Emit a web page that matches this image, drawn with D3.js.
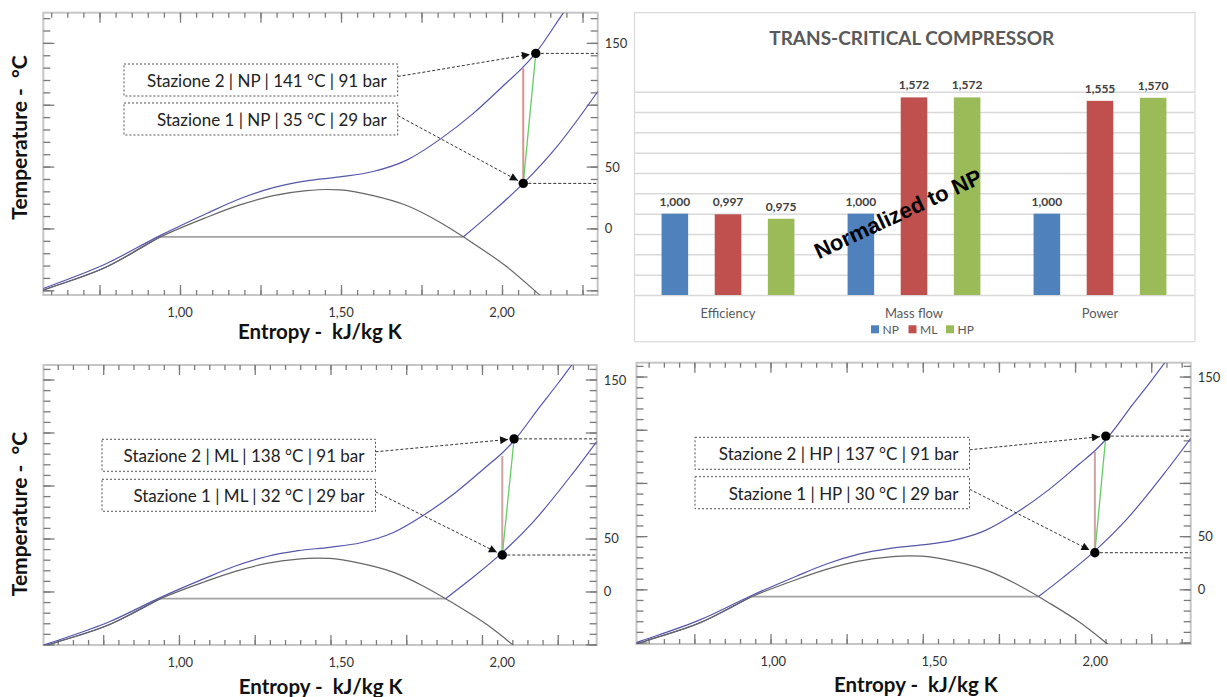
<!DOCTYPE html>
<html>
<head>
<meta charset="utf-8">
<script src="https://cdn.jsdelivr.net/npm/d3@7"></script>
<style>
  body { margin: 0; background: #fff; }
  svg { display: block; font-family: Lato, "Open Sans", sans-serif; }
</style>
</head>
<body>
<svg id="fig" width="1227" height="697"></svg>
<script>
// ---- T-s diagram curves (entropy kJ/kg K, temperature °C)
const isobar91 = [
  [0.55, -51.0], [0.5755, -48.5], [0.772, -28.3], [0.938, -5.8], [1.083, 12.1],
  [1.186, 24], [1.290, 33], [1.393, 38.5], [1.497, 41.7], [1.600, 46],
  [1.704, 55.2], [1.807, 72], [1.911, 93], [2.015, 118], [2.064, 130],
  [2.105, 142], [2.19, 174], [2.25, 196], [2.31, 219]
];
const satDome = [
  [0.55, -52.5], [0.5755, -50], [0.772, -31.1], [0.938, -7.0], [1.083, 9],
  [1.186, 19], [1.290, 26.5], [1.393, 30.5], [1.456, 31.5], [1.497, 31.2],
  [1.600, 26.5], [1.704, 18.5], [1.807, 5], [1.880, -6.8], [1.911, -12.1],
  [2.015, -31], [2.118, -54], [2.14, -59]
];
const isobar29Liquid = [[0.55, -52.3], [0.5755, -49.8], [0.772, -31], [0.938, -6.8]];
const isobar29Flat = [[0.938, -6.8], [1.880, -6.8]];
const isobar29Vapor = [[1.880, -6.8], [1.96, 11], [2.066, 36.4], [2.17, 66], [2.297, 110.5], [2.38, 142]];

// ---- compressor stations, one entry per diagram (NP, ML, HP)
const caseNames = ["NP", "ML", "HP"];
const st1Entropy = [2.066, 2.067, 2.065];
const st1Temp = [36.4, 34.4, 34.4];
const st2Entropy = [2.105, 2.106, 2.101];
const st2Temp = [141.5, 144, 144];
const isentropicTopTemp = [129.4, 127.8, 129.3];
const st1Labels = ["Stazione 1 | NP | 35 °C | 29 bar", "Stazione 1 | ML | 32 °C | 29 bar", "Stazione 1 | HP | 30 °C | 29 bar"];
const st2Labels = ["Stazione 2 | NP | 141 °C | 91 bar", "Stazione 2 | ML | 138 °C | 91 bar", "Stazione 2 | HP | 137 °C | 91 bar"];

// ---- axis labels
const xLabelValues = [1.0, 1.5, 2.0];
const rightLabelTexts = ["0", "50", "150"];
const rightLabelPosTop = [0, 50, 150];
const rightLabelPosBottom = [0, 50, 200];   // pasted labels sit one major tick higher

// ---- bar chart
const categories = ["Efficiency", "Mass flow", "Power"];
const seriesKeys = ["NP", "ML", "HP"];
const npValues = [1.000, 1.000, 1.000];
const mlValues = [0.997, 1.572, 1.555];
const hpValues = [0.975, 1.572, 1.570];
const barColors = ["#4F81BD", "#C0504D", "#9BBB59"];
const barTicks = d3.range(6, 17).map(k => k / 10);

const itLocale = d3.formatLocale({decimal: ",", thousands: ".", grouping: [3], currency: ["", " €"]});
const fmt2 = itLocale.format(".2f");
const fmt3 = itLocale.format(".3f");

const svg = d3.select("#fig");
const defs = svg.append("defs");
defs.append("marker")
  .attr("id", "arrow")
  .attr("viewBox", "0 0 10 10")
  .attr("refX", 10).attr("refY", 5)
  .attr("markerWidth", 9).attr("markerHeight", 8)
  .attr("markerUnits", "userSpaceOnUse")
  .attr("orient", "auto")
  .append("path").attr("d", "M0,0L10,5L0,10Z").attr("fill", "#111");

const panels = [
  {left: 43.3, right: 597.7, top: 12.7, bottom: 295, xDom: [0.5755, 2.2972], yDom: [-53.8, 174.4],
   boxLeft: 124, boxRight: 397.7, box2Top: 64, box1Top: 103, redColor: "#d6948e",
   xTitleX: 320, xTitleY: 338.5, yTitleY: 137.5, rightPos: rightLabelPosTop},
  {left: 43.5, right: 596.7, top: 365, bottom: 645, xDom: [0.5529, 2.3786], yDom: [-50.5, 213.7],
   boxLeft: 102, boxRight: 375.5, box2Top: 439.3, box1Top: 479.3, redColor: "#cda4a2",
   xTitleX: 320.6, xTitleY: 694, yTitleY: 514, rightPos: rightLabelPosBottom},
  {left: 636.5, right: 1190.7, top: 362.7, bottom: 644, xDom: [0.5601, 2.3796], yDom: [-51.4, 213.0],
   boxLeft: 695, boxRight: 969.5, box2Top: 437.3, box1Top: 476.7, redColor: "#cda4a2",
   xTitleX: 916, xTitleY: 692, yTitleY: null, rightPos: rightLabelPosBottom}
];

const topPanel = panels[0];

panels.forEach((p, i) => drawTs(p, i));
drawBars();

function drawTs(p, i) {
  const x = d3.scaleLinear().domain(p.xDom).range([p.left, p.right]);
  const y = d3.scaleLinear().domain(p.yDom).range([p.bottom, p.top]);
  // tick labels of the lower diagrams were copied from the NP one
  const xLab = d3.scaleLinear().domain(topPanel.xDom)
    .range([p.left, p.left + (topPanel.right - topPanel.left)]);

  const g = svg.append("g");
  const clipId = "clip" + i;
  defs.append("clipPath").attr("id", clipId).append("rect")
    .attr("x", p.left).attr("y", p.top)
    .attr("width", p.right - p.left).attr("height", p.bottom - p.top);

  g.append("rect")
    .attr("x", p.left).attr("y", p.top)
    .attr("width", p.right - p.left).attr("height", p.bottom - p.top)
    .attr("fill", "#fff").attr("stroke", "#c6c6c6").attr("stroke-width", 2);

  // ticks
  const xMinor = d3.range(Math.ceil(p.xDom[0] * 20), Math.floor(p.xDom[1] * 20) + 1).map(k => k / 20);
  const xMajor = xMinor.filter(v => Math.round(v * 20) % 5 === 0);
  const yMinor = d3.range(Math.ceil(p.yDom[0] / 10), Math.floor(p.yDom[1] / 10) + 1).map(k => k * 10);
  const yMajor = yMinor.filter(v => v % 50 === 0);

  const tickAxis = (axis, vals, size, tr) => {
    g.append("g").attr("transform", tr)
      .call(axis.tickValues(vals).tickSize(size).tickFormat(""))
      .call(a => a.select(".domain").remove())
      .selectAll("line").attr("stroke", "#7a7a7a").attr("stroke-width", 1.3);
  };
  [[xMinor, 5], [xMajor, 10]].forEach(([v, s]) => {
    tickAxis(d3.axisBottom(x), v, s, `translate(0,${p.top})`);
    tickAxis(d3.axisTop(x), v, s, `translate(0,${p.bottom})`);
  });
  [[yMinor, 7], [yMajor, 11]].forEach(([v, s]) => {
    tickAxis(d3.axisRight(y), v, s, `translate(${p.left},0)`);
    tickAxis(d3.axisLeft(y), v, s, `translate(${p.right},0)`);
  });

  // curves
  const line = d3.line().x(d => x(d[0])).y(d => y(d[1])).curve(d3.curveMonotoneX);
  const cg = g.append("g").attr("clip-path", `url(#${clipId})`).attr("fill", "none");
  cg.append("path").datum(isobar29Flat).attr("d", line).attr("stroke", "#a3a3a3").attr("stroke-width", 1.7);
  cg.append("path").datum(isobar29Liquid).attr("d", line).attr("stroke", "#4a4a9c").attr("stroke-width", 1.1);
  cg.append("path").datum(satDome).attr("d", line).attr("stroke", "#666").attr("stroke-width", 1.2);
  cg.append("path").datum(isobar91).attr("d", line).attr("stroke", "#5656aa").attr("stroke-width", 1.2);
  cg.append("path").datum(isobar29Vapor).attr("d", line).attr("stroke", "#5656aa").attr("stroke-width", 1.2);

  // stations
  const p1 = [x(st1Entropy[i]), y(st1Temp[i])];
  const p2 = [x(st2Entropy[i]), y(st2Temp[i])];

  [p1, p2].forEach(pt => {
    g.append("line").attr("x1", pt[0]).attr("x2", p.right)
      .attr("y1", pt[1]).attr("y2", pt[1])
      .attr("stroke", "#333").attr("stroke-width", 1).attr("stroke-dasharray", "3,2");
  });
  g.append("line")
    .attr("x1", p1[0]).attr("x2", x(st1Entropy[i]))
    .attr("y1", p1[1]).attr("y2", y(isentropicTopTemp[i]))
    .attr("stroke", p.redColor).attr("stroke-width", 2);
  g.append("line")
    .attr("x1", p1[0]).attr("y1", p1[1]).attr("x2", p2[0]).attr("y2", p2[1])
    .attr("stroke", "#66cc66").attr("stroke-width", 1.3);

  const boxW = p.boxRight - p.boxLeft;
  const boxes = [
    {top: p.box2Top, text: st2Labels[i], target: p2},
    {top: p.box1Top, text: st1Labels[i], target: p1}
  ];
  boxes.forEach(b => {
    g.append("rect")
      .attr("x", p.boxLeft).attr("y", b.top).attr("width", boxW).attr("height", 32)
      .attr("fill", "#fff").attr("stroke", "#555").attr("stroke-width", 1)
      .attr("stroke-dasharray", "2,2");
    g.append("text")
      .attr("x", p.boxRight - 11).attr("y", b.top + 16.5)
      .attr("text-anchor", "end").attr("dominant-baseline", "central")
      .attr("font-size", 17).attr("fill", "#222")
      .text(b.text);
    const sx = p.boxRight, sy = b.top + 12.5;
    const dx = b.target[0] - sx, dy = b.target[1] - sy, len = Math.hypot(dx, dy), gap = 6;
    g.append("line")
      .attr("x1", sx).attr("y1", sy)
      .attr("x2", b.target[0] - dx / len * gap).attr("y2", b.target[1] - dy / len * gap)
      .attr("stroke", "#333").attr("stroke-width", 1).attr("stroke-dasharray", "3,2")
      .attr("marker-end", "url(#arrow)");
  });
  [p1, p2].forEach(pt => {
    g.append("circle").attr("cx", pt[0]).attr("cy", pt[1]).attr("r", 4.7).attr("fill", "#000");
  });

  // labels
  g.selectAll(".xl").data(xLabelValues).enter().append("text")
    .attr("x", d => xLab(d)).attr("y", p.bottom + 16.5)
    .attr("text-anchor", "middle").attr("dominant-baseline", "central")
    .attr("font-size", 13).attr("fill", "#333")
    .text(d => fmt2(d));
  g.selectAll(".rl").data(p.rightPos).enter().append("text")
    .attr("x", p.right + 7).attr("y", d => y(d))
    .attr("dominant-baseline", "central")
    .attr("font-size", 13).attr("fill", "#333")
    .text((d, k) => rightLabelTexts[k]);

  g.append("text")
    .attr("x", p.xTitleX).attr("y", p.xTitleY)
    .attr("text-anchor", "middle").attr("font-size", 20.5).attr("font-weight", "bold")
    .attr("fill", "#111").style("white-space", "pre")
    .text("Entropy -  kJ/kg K");
  if (p.yTitleY !== null) {
    g.append("text")
      .attr("transform", `translate(27,${p.yTitleY}) rotate(-90)`)
      .attr("text-anchor", "middle").attr("font-size", 21).attr("font-weight", "bold")
      .attr("fill", "#111").style("white-space", "pre")
      .text("Temperature -  °C");
  }
}

function drawBars() {
  const frame = {left: 634.5, right: 1195, top: 12.7, bottom: 341.7};
  const plot = {left: 635, right: 1193, top: 91.7, bottom: 295};
  const values = [npValues, mlValues, hpValues];
  const rows = categories.map((c, ci) => ({
    cat: c,
    bars: seriesKeys.map((k, ki) => ({key: k, ki: ki, value: values[ki][ci]}))
  }));

  const g = svg.append("g");
  g.append("rect")
    .attr("x", frame.left).attr("y", frame.top)
    .attr("width", frame.right - frame.left).attr("height", frame.bottom - frame.top)
    .attr("fill", "#fff").attr("stroke", "#d9d9d9").attr("stroke-width", 1.2);

  const x0 = d3.scaleBand().domain(categories).range([plot.left, plot.right]);
  const x1 = d3.scaleBand().domain(seriesKeys).range([0, x0.bandwidth()])
    .paddingInner(0.5).paddingOuter(0.5);
  const y = d3.scaleLinear().domain([0.6, 1.6]).range([plot.bottom, plot.top]);

  g.append("g").attr("transform", `translate(${plot.left},0)`)
    .call(d3.axisLeft(y).tickValues(barTicks).tickSize(-(plot.right - plot.left + 1)).tickFormat(""))
    .call(a => a.select(".domain").remove())
    .selectAll("line").attr("stroke", "#d9d9d9").attr("stroke-width", 1.5);

  g.append("text")
    .attr("x", (frame.left + frame.right) / 2 - 3).attr("y", 45)
    .attr("text-anchor", "middle").attr("font-size", 19).attr("font-weight", "bold")
    .attr("fill", "#595959")
    .text("TRANS-CRITICAL COMPRESSOR");

  const grp = g.selectAll(".grp").data(rows).enter().append("g")
    .attr("transform", d => `translate(${x0(d.cat)},0)`);
  grp.selectAll("rect").data(d => d.bars).enter().append("rect")
    .attr("x", d => x1(d.key)).attr("width", x1.bandwidth())
    .attr("y", d => y(d.value)).attr("height", d => y(0.6) - y(d.value))
    .attr("fill", d => barColors[d.ki]);
  grp.selectAll("text").data(d => d.bars).enter().append("text")
    .attr("x", d => x1(d.key) + x1.bandwidth() / 2).attr("y", d => y(d.value) - 8)
    .attr("text-anchor", "middle").attr("font-size", 12).attr("font-weight", "bold")
    .attr("fill", "#404040")
    .text(d => fmt3(d.value));

  g.selectAll(".cat").data(categories).enter().append("text")
    .attr("x", d => x0(d) + x0.bandwidth() / 2).attr("y", 317.5)
    .attr("text-anchor", "middle").attr("font-size", 13).attr("fill", "#595959")
    .text(d => d);

  const leg = g.selectAll(".leg").data(seriesKeys).enter().append("g")
    .attr("transform", (d, k) => `translate(${871 + k * 37.5},329.3)`);
  leg.append("rect").attr("x", 0).attr("y", -4).attr("width", 8).attr("height", 8)
    .attr("fill", (d, k) => barColors[k]);
  leg.append("text").attr("x", 11.5).attr("y", 0).attr("dominant-baseline", "central")
    .attr("font-size", 12).attr("fill", "#595959").text(d => d);

  g.append("text")
    .attr("transform", "translate(898,214) rotate(-25)")
    .attr("text-anchor", "middle").attr("dominant-baseline", "central")
    .attr("font-family", "'Liberation Sans', Arial, sans-serif")
    .attr("font-size", 22).attr("font-weight", "bold").attr("fill", "#000")
    .text("Normalized to NP");
}
</script>
</body>
</html>
